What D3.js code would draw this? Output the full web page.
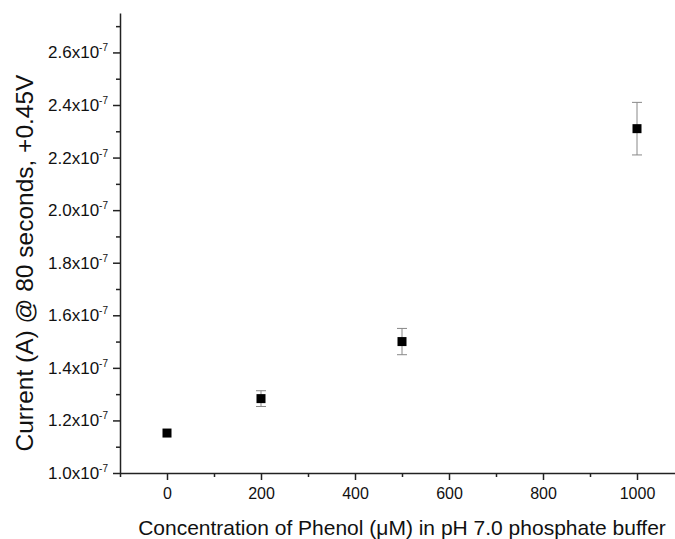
<!DOCTYPE html>
<html lang="en">
<head>
    <meta charset="UTF-8" />
    <title>Phenol current</title>
    <script src="https://d3js.org/d3.v7.min.js"></script>
    <style>
        body { margin: 0; background: #fff; }
        text { font-family: "Liberation Sans", Arial, sans-serif; fill: #111; }
    </style>
</head>
<body>
    <div id="chart"></div>
    <script>
        var w = 675;
        var h = 539;

        // data (current in units of 1e-7 A)
        var concentrations = [0, 200, 500, 1000];
        var currents = [1.152, 1.283, 1.50, 2.31];
        var errors = [0.0, 0.03, 0.05, 0.10];

        var xTicks = [0, 200, 400, 600, 800, 1000];
        var xMinor = [-100, 100, 300, 500, 700, 900, 1100];
        var yTicks = [1.0, 1.2, 1.4, 1.6, 1.8, 2.0, 2.2, 2.4, 2.6];
        var yMinor = [1.1, 1.3, 1.5, 1.7, 1.9, 2.1, 2.3, 2.5, 2.7];

        var svg = d3.select("#chart")
            .append("svg")
            .attr("width", w)
            .attr("height", h);

        var xScale = d3.scaleLinear()
            .domain([-100, 1100])
            .range([120, 684]);

        var yScale = d3.scaleLinear()
            .domain([1.0, 2.75])
            .range([473, 13]);

        // x axis
        var xAxis = svg.append("g")
            .attr("transform", "translate(0,473)")
            .call(d3.axisBottom(xScale).tickValues(xTicks).tickSize(7).tickSizeOuter(0)
                .tickPadding(8).tickFormat(d3.format("d")));
        svg.append("g")
            .attr("transform", "translate(0,473)")
            .call(d3.axisBottom(xScale).tickValues(xMinor).tickSize(4).tickSizeOuter(0).tickFormat(""))
            .select(".domain").remove();
        xAxis.selectAll("text").style("font-size", "16px").style("font-family", "Liberation Sans, Arial, sans-serif");

        // y axis
        svg.append("g")
            .attr("transform", "translate(120,0)")
            .call(d3.axisLeft(yScale).tickValues(yTicks).tickSize(7).tickSizeOuter(0).tickFormat(""));
        svg.append("g")
            .attr("transform", "translate(120,0)")
            .call(d3.axisLeft(yScale).tickValues(yMinor).tickSize(4).tickSizeOuter(0).tickFormat(""))
            .select(".domain").remove();

        svg.selectAll(".domain, .tick line").attr("stroke", "#222").attr("stroke-width", 1.5);

        svg.append("g").selectAll("text")
            .data(yTicks)
            .enter()
            .append("text")
            .attr("x", 108)
            .attr("y", function (d) { return yScale(d) + 6; })
            .attr("text-anchor", "end")
            .style("font-size", "17px")
            .each(function (d) {
                var t = d3.select(this);
                t.append("tspan").text(d3.format(".1f")(d) + "x10");
                t.append("tspan").attr("dy", "-7").style("font-size", "10px").text("-7");
            });

        // error bars
        var bars = svg.append("g")
            .attr("stroke", "#888")
            .attr("stroke-width", 1);
        concentrations.forEach(function (c, i) {
            if (errors[i] <= 0) return;
            var x = xScale(c);
            var y1 = yScale(currents[i] + errors[i]);
            var y2 = yScale(currents[i] - errors[i]);
            bars.append("line").attr("x1", x).attr("x2", x).attr("y1", y1).attr("y2", y2);
            bars.append("line").attr("x1", x - 5).attr("x2", x + 5).attr("y1", y1).attr("y2", y1);
            bars.append("line").attr("x1", x - 5).attr("x2", x + 5).attr("y1", y2).attr("y2", y2);
        });

        // square markers
        svg.selectAll(".pt")
            .data(concentrations)
            .enter()
            .append("rect")
            .attr("class", "pt")
            .attr("x", function (d) { return xScale(d) - 4.5; })
            .attr("y", function (d, i) { return yScale(currents[i]) - 4.5; })
            .attr("width", 9)
            .attr("height", 9)
            .style("fill", "#000");

        // axis titles
        svg.append("text")
            .attr("x", 402)
            .attr("y", 535)
            .attr("text-anchor", "middle")
            .style("font-size", "21px")
            .text("Concentration of Phenol (\u03bcM) in pH 7.0 phosphate buffer");

        svg.append("text")
            .attr("transform", "translate(33,263) rotate(-90)")
            .attr("text-anchor", "middle")
            .style("font-size", "24.5px")
            .text("Current (A) @ 80 seconds, +0.45V");
    </script>
</body>
</html>
